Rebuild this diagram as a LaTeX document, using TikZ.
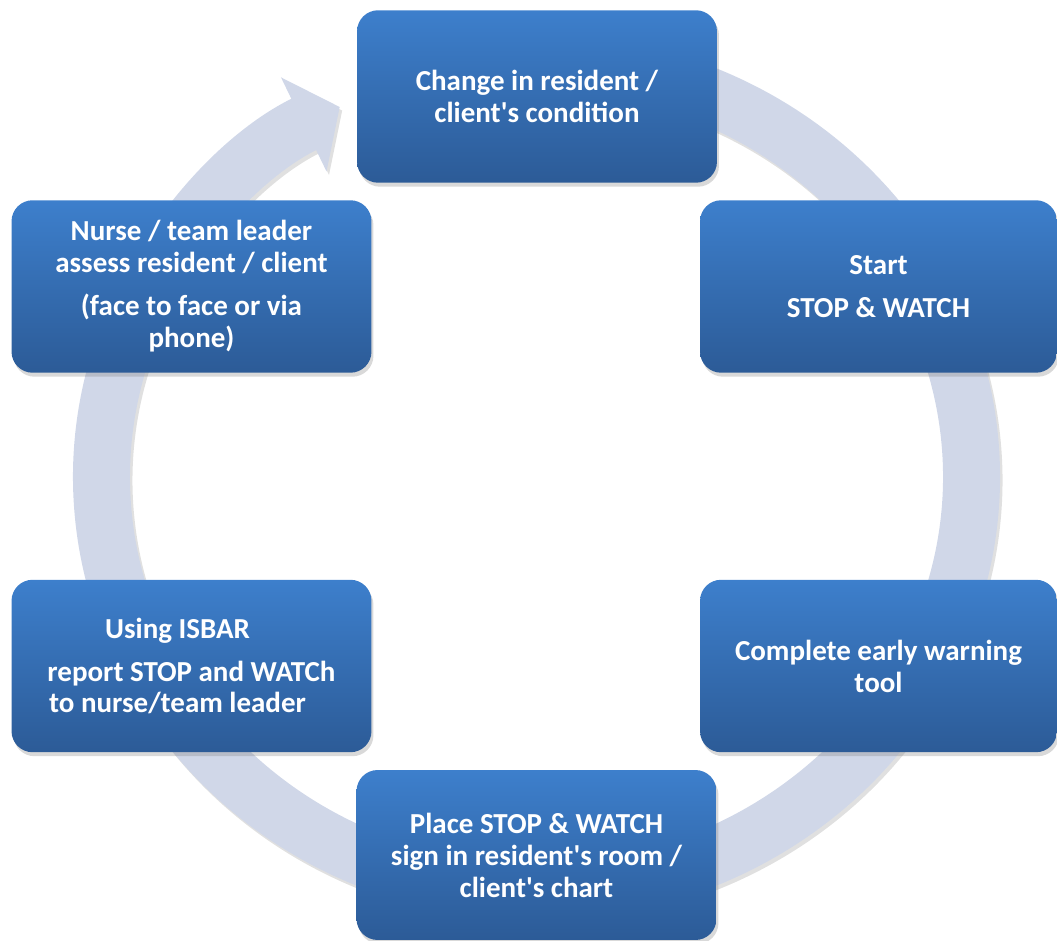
\documentclass[tikz,border=0pt]{standalone}
\usepackage{fontspec}
\setmainfont{Carlito}[Ligatures=TeXOff]
\usepackage{tikz}
\usetikzlibrary{arrows.meta,shadows}
\definecolor{boxtop}{HTML}{3D7FCC}
\definecolor{boxbottom}{HTML}{2C5B97}
\definecolor{ringfill}{HTML}{D0D7E8}
\newcommand{\padr}{\hspace*{0.56cm}}

\begin{document}
\begin{tikzpicture}[x=0.02cm, y=0.02cm,
		font=\bfseries\fontsize{16.5pt}{18.2pt}\selectfont,
		stepbox/.style={rounded corners=12pt, top color=boxtop,
			bottom color=boxbottom, text=white, align=center,
			minimum width=7.2cm, minimum height=3.45cm,
			drop shadow={opacity=0.3, shadow xshift=0.04cm, shadow yshift=-0.08cm}},
		ring/.style={ringfill, line width=1.14cm,
			-{Triangle[length=8mm, width=20.5mm]}}]
	\useasboundingbox (0,0) rectangle (1057,940);
	\coordinate (mid) at (536.5,463);
	% the cycle ring, shadow first
	\draw[ring, black, opacity=0.12] ([xshift=0.05cm, yshift=-0.07cm]mid)
		++(70:8.7cm and 8.3cm) arc[start angle=70, end angle=-243.1,
		x radius=8.7cm, y radius=8.3cm];
	\draw[ring] (mid) ++(70:8.7cm and 8.3cm)
		arc[start angle=70, end angle=-243.1, x radius=8.7cm, y radius=8.3cm];
	% the six steps
	\node[stepbox] (change) at (537,843.5)
	{Change in resident /\\client's condition};
	\node[stepbox, minimum width=7.14cm] (start) at (878.5,653.5)
	{Start\\[0.22cm]STOP \& WATCH};
	\node[stepbox, minimum width=7.14cm] (warning) at (878.5,274)
	{Complete early warning\\tool};
	\node[stepbox, minimum height=3.4cm] (sign) at (536.5,85)
	{Place STOP \& WATCH\\sign in resident's room /\\client's chart};
	\node[stepbox] (isbar) at (191.5,274)
	{Using ISBAR\padr\\[0.22cm]report STOP and WATCh\padr\\to nurse/team leader\padr};
	\node[stepbox] (assess) at (191.5,653.5)
	{Nurse / team leader\\assess resident / client\\[0.22cm](face to face or via\\phone)};
\end{tikzpicture}
\end{document}
